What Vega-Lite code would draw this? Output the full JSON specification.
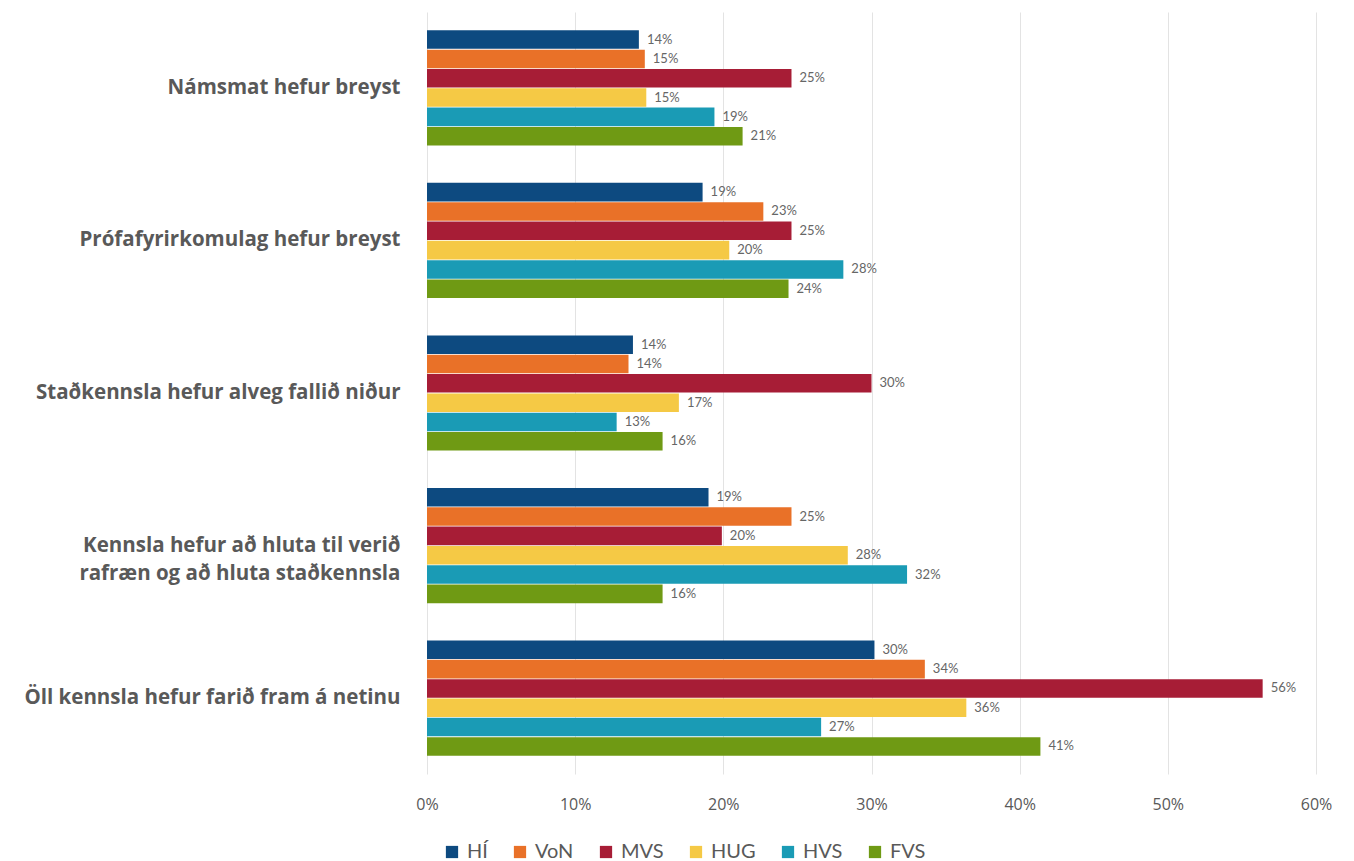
{
  "$schema": "https://vega.github.io/schema/vega-lite/v6.json",
  "autosize": {"type": "none"},
  "padding": {"left": 427, "top": 12, "right": 38, "bottom": 87},
  "width": 889,
  "height": 762,
  "background": "white",
  "config": {"view": {"stroke": null}, "font": "Lato"},
  "data": {"values": [
    {"cat": "Námsmat hefur breyst", "s": "HÍ", "v": 0.143},
    {"cat": "Námsmat hefur breyst", "s": "VoN", "v": 0.147},
    {"cat": "Námsmat hefur breyst", "s": "MVS", "v": 0.246},
    {"cat": "Námsmat hefur breyst", "s": "HUG", "v": 0.148},
    {"cat": "Námsmat hefur breyst", "s": "HVS", "v": 0.194},
    {"cat": "Námsmat hefur breyst", "s": "FVS", "v": 0.213},
    {"cat": "Prófafyrirkomulag hefur breyst", "s": "HÍ", "v": 0.186},
    {"cat": "Prófafyrirkomulag hefur breyst", "s": "VoN", "v": 0.227},
    {"cat": "Prófafyrirkomulag hefur breyst", "s": "MVS", "v": 0.246},
    {"cat": "Prófafyrirkomulag hefur breyst", "s": "HUG", "v": 0.204},
    {"cat": "Prófafyrirkomulag hefur breyst", "s": "HVS", "v": 0.281},
    {"cat": "Prófafyrirkomulag hefur breyst", "s": "FVS", "v": 0.244},
    {"cat": "Staðkennsla hefur alveg fallið niður", "s": "HÍ", "v": 0.139},
    {"cat": "Staðkennsla hefur alveg fallið niður", "s": "VoN", "v": 0.136},
    {"cat": "Staðkennsla hefur alveg fallið niður", "s": "MVS", "v": 0.300},
    {"cat": "Staðkennsla hefur alveg fallið niður", "s": "HUG", "v": 0.170},
    {"cat": "Staðkennsla hefur alveg fallið niður", "s": "HVS", "v": 0.128},
    {"cat": "Staðkennsla hefur alveg fallið niður", "s": "FVS", "v": 0.159},
    {"cat": "Kennsla hefur að hluta til verið rafræn og að hluta staðkennsla", "s": "HÍ", "v": 0.190},
    {"cat": "Kennsla hefur að hluta til verið rafræn og að hluta staðkennsla", "s": "VoN", "v": 0.246},
    {"cat": "Kennsla hefur að hluta til verið rafræn og að hluta staðkennsla", "s": "MVS", "v": 0.199},
    {"cat": "Kennsla hefur að hluta til verið rafræn og að hluta staðkennsla", "s": "HUG", "v": 0.284},
    {"cat": "Kennsla hefur að hluta til verið rafræn og að hluta staðkennsla", "s": "HVS", "v": 0.324},
    {"cat": "Kennsla hefur að hluta til verið rafræn og að hluta staðkennsla", "s": "FVS", "v": 0.159},
    {"cat": "Öll kennsla hefur farið fram á netinu", "s": "HÍ", "v": 0.302},
    {"cat": "Öll kennsla hefur farið fram á netinu", "s": "VoN", "v": 0.336},
    {"cat": "Öll kennsla hefur farið fram á netinu", "s": "MVS", "v": 0.564},
    {"cat": "Öll kennsla hefur farið fram á netinu", "s": "HUG", "v": 0.364},
    {"cat": "Öll kennsla hefur farið fram á netinu", "s": "HVS", "v": 0.266},
    {"cat": "Öll kennsla hefur farið fram á netinu", "s": "FVS", "v": 0.414}
  ]},
  "encoding": {
    "y": {
      "field": "cat", "type": "nominal", "sort": null, "title": null,
      "scale": {"paddingInner": 0.245, "paddingOuter": 0.12},
      "axis": {
        "domain": false, "ticks": false, "labelPadding": 27,
        "labelFont": "Open Sans", "labelFontSize": 20.5, "labelFontWeight": "bold",
        "labelColor": "#595959", "labelLimit": 420, "labelLineHeight": 28,
        "labelExpr": "datum.value == 'Kennsla hefur að hluta til verið rafræn og að hluta staðkennsla' ? ['Kennsla hefur að hluta til verið', 'rafræn og að hluta staðkennsla'] : datum.value"
      }
    },
    "yOffset": {
      "field": "s", "type": "nominal",
      "sort": ["HÍ", "VoN", "MVS", "HUG", "HVS", "FVS"],
      "scale": {"paddingInner": 0.04, "paddingOuter": 0}
    },
    "x": {
      "field": "v", "type": "quantitative", "title": null,
      "scale": {"domain": [0, 0.6], "nice": false},
      "axis": {
        "format": ".0%", "values": [0, 0.1, 0.2, 0.3, 0.4, 0.5, 0.6],
        "labelOverlap": false, "labelFlush": false,
        "domain": false, "ticks": false, "labelPadding": 22,
        "labelFont": "Open Sans", "labelFontSize": 16, "labelColor": "#595959",
        "gridColor": "#e3e3e3", "gridWidth": 1
      }
    }
  },
  "layer": [
    {
      "mark": {"type": "bar"},
      "encoding": {
        "color": {
          "field": "s", "type": "nominal", "title": null,
          "sort": ["HÍ", "VoN", "MVS", "HUG", "HVS", "FVS"],
          "scale": {"domain": ["HÍ", "VoN", "MVS", "HUG", "HVS", "FVS"],
                    "range": ["#0d4a80", "#e97128", "#a71d36", "#f5c945", "#1a9bb5", "#6f9a14"]},
          "legend": {
            "orient": "none", "direction": "horizontal", "legendX": 15, "legendY": 830,
            "symbolType": "square", "symbolSize": 150, "symbolStrokeWidth": 0,
            "labelFont": "Lato", "labelFontSize": 20, "labelColor": "#595959",
            "columnPadding": 22, "labelOffset": 5
          }
        }
      }
    },
    {
      "mark": {"type": "text", "align": "left", "baseline": "middle", "dx": 8, "font": "Lato", "fontSize": 13, "color": "#666666"},
      "encoding": {
        "text": {"field": "v", "type": "quantitative", "format": ".0%"}
      }
    }
  ]
}
